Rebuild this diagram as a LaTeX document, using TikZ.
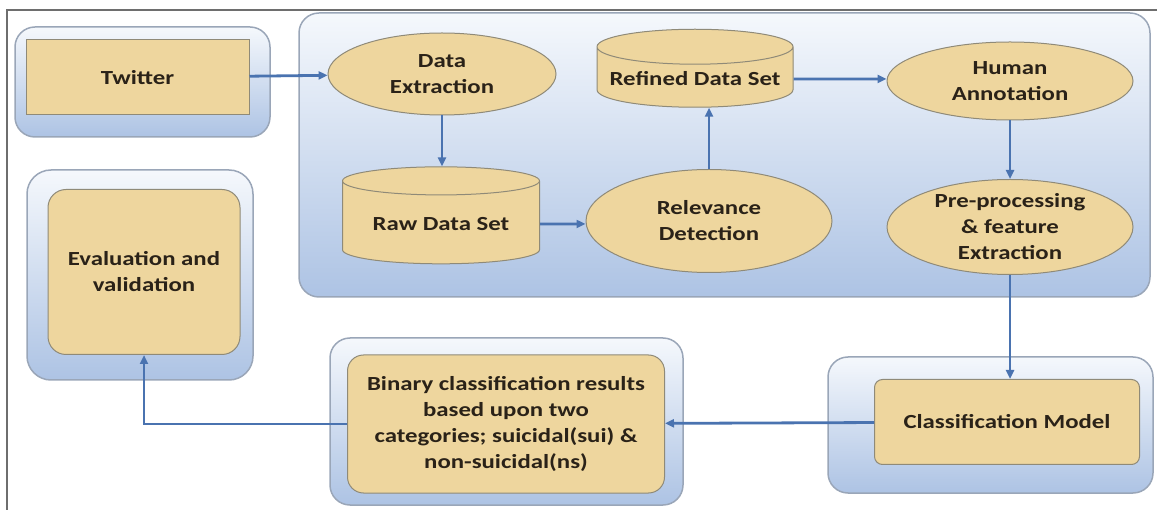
\documentclass[tikz,border=0pt]{standalone}
\usepackage{fontspec}
\setmainfont{Carlito}[FakeStretch=1.24]
\usetikzlibrary{shapes.geometric,arrows.meta,positioning}

\definecolor{framegray}{HTML}{6E6E6E}
\definecolor{groupline}{HTML}{9AA6B8}
\definecolor{grouptop}{HTML}{F5F8FC}
\definecolor{groupbot}{HTML}{ADC3E4}
\definecolor{paper}{HTML}{EED69E}
\definecolor{paperlid}{HTML}{F6E8C6}
\definecolor{paperline}{HTML}{8F8A78}
\definecolor{inktext}{HTML}{2A2218}
\definecolor{flowblue}{HTML}{4A73B0}

\begin{document}
\begin{tikzpicture}[x=1pt, y=-1pt, style={
  group/.style={
    rounded corners=20pt,
    draw=groupline,
    line width=1.5pt,
    top color=grouptop,
    bottom color=groupbot,
  },
  box/.style={
    draw=paperline,
    line width=1pt,
    fill=paper,
    text=inktext,
    align=center,
    inner sep=2pt,
    font=\bfseries\fontsize{20}{26}\selectfont,
  },
  oval/.style={
    box, ellipse,
    inner sep=0pt,
  },
  store/.style={
    box, cylinder,
    shape border rotate=90,
    aspect=0.2,
    cylinder uses custom fill,
    cylinder body fill=paper,
    cylinder end fill=paperlid,
  },
  flow/.style={-{Triangle[length=9pt, width=8pt]}, draw=flowblue, line width=2.8pt}
}]
\useasboundingbox (0,0) rectangle (1157,510);
\draw[framegray, line width=1.5pt] (7,510) -- (7,10) -- (1157,10);

\draw[group] (15,27) rectangle (270,137);
\draw[group] (299,13) rectangle (1150,297);
\draw[group, rounded corners=24pt] (27,170) rectangle (253,380);
\draw[group] (330,338) rectangle (683,505);
\draw[group] (828,357) rectangle (1153,493);

\draw[]
  node[box, minimum width=223pt, minimum height=75pt] (twitter) at (137.5,77.5) {Twitter}
  node[oval, minimum width=228pt, minimum height=82pt] (extract) at (442,74) {Data\\Extraction}
  node[store, minimum width=197pt, minimum height=97pt] (raw) at (441,224) {Raw Data Set}
  node[oval, minimum width=246pt, minimum height=103pt] (relevance) at (709,221) {Relevance\\Detection}
  node[store, minimum width=196pt, minimum height=78pt] (refined) at (695,79) {Refined Data Set}
  node[oval, minimum width=246pt, minimum height=78pt, inner sep=-4pt] (human) at (1010,81) {Human\\Annotation}
  node[oval, minimum width=246pt, minimum height=95pt, inner sep=-12pt] (prep) at (1010,227)
    {Pre-processing\\\& feature\\Extraction}
  node[box, rounded corners=8pt, minimum width=265pt, minimum height=85pt] (model) at (1007,422)
    {Classification Model}
  node[box, rounded corners=16pt, minimum width=317pt, minimum height=138pt] (binary) at (506,424)
    {Binary classification results\\based upon two\\categories; suicidal(sui) \&\\non-suicidal(ns)}
  node[box, rounded corners=18pt, minimum width=192pt, minimum height=165pt] (evaluation) at (144,272)
    {Evaluation and\\validation}
;

\draw[flow] (twitter) -- (extract);
\draw[flow] (extract) -- (extract |- raw.north);
\draw[flow] (raw) -- (raw -| relevance.west);
\draw[flow] (relevance) -- (relevance |- refined.south);
\draw[flow] (refined) -- (refined -| human.west);
\draw[flow] (human) -- (prep);
\draw[flow] (prep) -- (prep |- model.north);
\draw[flow] (model) -- (binary);
\draw[flow] (binary.west) -| (evaluation.south);
\end{tikzpicture}
\end{document}
